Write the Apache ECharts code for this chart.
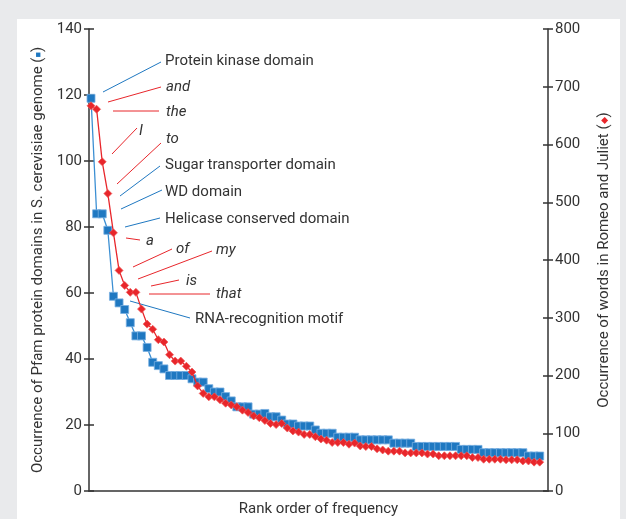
<!DOCTYPE html>
<html><head><meta charset="utf-8">
<script src="https://cdn.jsdelivr.net/npm/echarts@6/dist/echarts.min.js"></script>
<style>html,body{margin:0;padding:0;background:#e9eaec}#c{width:626px;height:519px}</style>
</head><body><div id="c"></div>
<script>
// Pfam protein domains in S. cerevisiae genome (left axis)
const pfamCounts = [119,84,84,79,59,57,55,51,47,47,43.5,39,38,37,35,35,35,35,34,33,33,31,30,30,28.6,27.3,25.5,25.5,25.5,23.3,23.3,23.5,22.5,22.5,21.5,20.3,20.3,19.7,19.7,19.7,18.5,17.5,17.5,17.5,16.3,16.3,16.3,16.3,15.5,15.5,15.5,15.5,15.5,15.5,14.5,14.5,14.5,14.5,13.5,13.5,13.5,13.5,13.5,13.5,13.5,13.5,12.6,12.6,12.6,12.6,11.6,11.6,11.6,11.6,11.6,11.6,11.6,11.6,10.6,10.6,10.6];
// Words in Romeo and Juliet (right axis)
const wordCounts = [667,661,570,515,447,382,356,344,344,315,289,280,262,258,236,225,225,216,206,182,169,163,163,158,152,149,146,140,136,130,127,122,117,115,117,109,104,102,98,98,94,90,88,84,84,84,81,83,78,77,77,73,71,69,69,69,66,66,66,66,64,64,61,61,61,61,61,61,58,58,55,55,55,55,54,54,54,52,52,50,50];
const leftTicks = [0,20,40,60,80,100,120,140];
const rightTicks = [0,100,200,300,400,500,600,700,800];

const BLUE = '#1f78c1', RED = '#e8262b', TXT = '#333';
const FONT = 'Roboto';
const FS = 15;
const pfamData = pfamCounts.map((v,i)=>[i+1,v]);
const wordData = wordCounts.map((v,i)=>[i+1,v]);

// annotation layout (pixel positions of callouts)
const notes = [
  {t:'Protein kinase domain', x:165, y:61, c:BLUE, it:false, l:[103,92,161,62]},
  {t:'and', x:166, y:87, c:RED, it:true, l:[108,102,161,87]},
  {t:'the', x:166, y:112, c:RED, it:true, l:[113,111,159,111]},
  {t:'I', x:139, y:131, c:RED, it:true, l:[112,154,137,128]},
  {t:'to', x:166, y:139, c:RED, it:true, l:[117,184,161,143]},
  {t:'Sugar transporter domain', x:165, y:165, c:BLUE, it:false, l:[120,196,160,166]},
  {t:'WD domain', x:165, y:192, c:BLUE, it:false, l:[121,209,162,190]},
  {t:'Helicase conserved domain', x:165, y:219, c:BLUE, it:false, l:[125,227,160,218]},
  {t:'a', x:146, y:241, c:RED, it:true, l:[126,238,140,240]},
  {t:'of', x:176, y:249, c:RED, it:true, l:[133,267,172,249]},
  {t:'my', x:216, y:250, c:RED, it:true, l:[138,279,212,251]},
  {t:'is', x:186, y:281, c:RED, it:true, l:[151,286,179,280]},
  {t:'that', x:216, y:294, c:RED, it:true, l:[149,294,210,294]},
  {t:'RNA-recognition motif', x:195, y:319, c:BLUE, it:false, l:[130,301,190,318]}
];
const graphics = [{type:'rect', z:-100, shape:{x:17,y:19,width:603,height:500}, style:{fill:'#ffffff'}}];
notes.forEach(n=>{
  graphics.push({type:'line', shape:{x1:n.l[0],y1:n.l[1],x2:n.l[2],y2:n.l[3]}, style:{stroke:n.c,lineWidth:1}});
  graphics.push({type:'text', x:n.x, y:n.y, style:{text:n.t, fill:TXT, font:(n.it?'italic ':'')+FS+'px '+FONT, textVerticalAlign:'middle', verticalAlign:'middle'}});
});

function yAx(pos, max, interval, main){
  return {
    type:'value', position:pos, min:0, max:max, interval:interval,
    show:true,
    axisLine:{show:main, lineStyle:{color:'#333', width:1.5}},
    axisTick:{show:true, inside:!main, length:5, lineStyle:{color:'#333', width:1.5}},
    axisLabel:{show:main, color:TXT, fontSize:FS, fontFamily:FONT, margin:7},
    splitLine:{show:false},
    name:'', nameLocation:'middle'
  };
}
const y0 = yAx('left',140,20,true);
y0.name = '{t|Occurrence of Pfam protein domains in S. cerevisiae genome (}{b|■}{t|)}';
y0.nameGap = 43;
y0.nameTextStyle = {rich:{t:{fontSize:FS,color:TXT,fontFamily:FONT}, b:{fontSize:9,color:BLUE,fontFamily:FONT}}};
const y1 = yAx('right',800,100,true);
y1.name = '{t|Occurrence of words in Romeo and Juliet (}{r|◆}{t|)}';
y1.nameGap = 49;
y1.nameRotate = 90;
y1.nameTextStyle = {rich:{t:{fontSize:FS,color:TXT,fontFamily:FONT}, r:{fontSize:9,color:RED,fontFamily:FONT}}};
const y2 = yAx('left',140,20,false);
const y3 = yAx('right',800,100,false);

const option = {
  backgroundColor:'#e9eaec',
  animation:false,
  grid:{left:89, right:78, top:29, bottom:28, containLabel:false, outerBoundsMode:'none'},
  xAxis:[
    {type:'value', min:0.64, max:82.48, position:'bottom',
     axisLine:{lineStyle:{color:'#333', width:1.5}}, axisTick:{show:false}, axisLabel:{show:false}, splitLine:{show:false},
     name:'Rank order of frequency', nameLocation:'middle', nameGap:11,
     nameTextStyle:{fontSize:FS, color:TXT, fontFamily:FONT}},
    {type:'value', min:0.64, max:82.48, position:'top',
     axisLine:{lineStyle:{color:'#666', width:1.5}}, axisTick:{show:false}, axisLabel:{show:false}, splitLine:{show:false}}
  ],
  yAxis:[y0,y1,y2,y3],
  graphic:graphics,
  series:[
    {type:'line', name:'pfam', xAxisIndex:0, yAxisIndex:0, data:pfamData,
     symbol:'rect', symbolSize:8, lineStyle:{color:'#3b8fd3', width:1.3},
     itemStyle:{color:BLUE, borderColor:'rgba(120,175,225,0.8)', borderWidth:1}, z:3},
    {type:'line', name:'words', xAxisIndex:0, yAxisIndex:1, data:wordData,
     symbol:'diamond', symbolSize:8, lineStyle:{color:RED, width:1.3},
     itemStyle:{color:RED, borderColor:'rgba(240,90,90,0.7)', borderWidth:1}, z:4}
  ]
};
const chart = echarts.init(document.getElementById('c'), null, {renderer:'canvas'});
chart.setOption(option);
</script></body></html>
